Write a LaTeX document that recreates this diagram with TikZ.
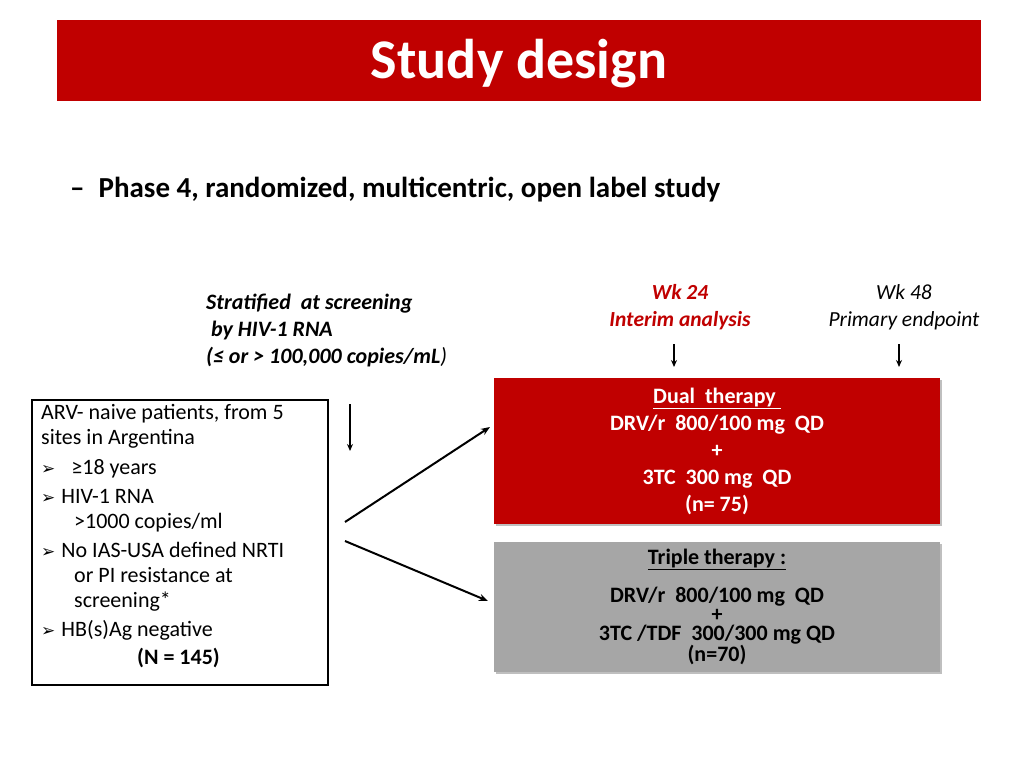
\documentclass[tikz,border=0pt]{standalone}
\usepackage{fontspec}
\setmainfont{Carlito}
\newfontfamily\symfont{DejaVu Sans}
\usetikzlibrary{positioning,arrows.meta,shadows}
\definecolor{darkred}{HTML}{C00000}
\definecolor{armgray}{HTML}{A6A6A6}
\tikzset{
  armbox/.style={minimum width=446pt, draw=none, drop shadow={shadow xshift=2pt, shadow yshift=-2pt, opacity=0.5}},
  lbl/.style={inner sep=0pt, font=\fontsize{21}{27}\selectfont},
  downarrow/.style={-{Stealth[length=7pt,width=6pt]}, line width=1.6pt},
  flowarrow/.style={-{Stealth[length=9pt,width=7pt]}, line width=2pt}
}
\newcommand{\bul}{{\symfont\fontsize{17}{18}\selectfont ➢}\hspace{6pt}}
\begin{document}
\begin{tikzpicture}[x=1pt,y=-1pt]
\useasboundingbox (0,0) rectangle (1024,768);
% title bar
\fill[darkred] (57,20) rectangle (981,101);
\node[text=white, font=\fontsize{56}{60}\selectfont\bfseries] (title) at (519,64) {Study design};
\node[lbl, anchor=west, font=\fontsize{29}{32}\selectfont\bfseries] (phase) at (70,190) {–\hspace{14pt}Phase 4, randomized, multicentric, open label study};
% stratification
\node[lbl, anchor=north west, align=left, font=\fontsize{22}{27}\selectfont\bfseries\itshape] (strat) at (206,294)
  {Stratified\ \ at screening\\\ by HIV-1 RNA\\(≤ or > 100,000 copies/mL\textmd{)}};
% time points
\node[lbl, align=center, text=darkred, font=\fontsize{21.5}{27}\selectfont\bfseries\itshape] (wk24) at (680,307) {Wk 24\\Interim analysis};
\node[lbl, align=center, font=\fontsize{21.5}{27}\selectfont\itshape] (wk48) at (904,307) {Wk 48\\Primary endpoint};
\coordinate (a24) at (674,344); \coordinate (b24) at (674,367);
\coordinate (a48) at (899,344); \coordinate (b48) at (899,367);
\coordinate (as) at (350,404); \coordinate (bs) at (350,451);
\draw[downarrow] (a24) -- (b24);
\draw[downarrow] (a48) -- (b48);
\draw[downarrow] (as) -- (bs);
% population box
\draw[line width=2pt] (32,400) rectangle (328,685);
\node[lbl, anchor=north west, align=left, font=\fontsize{22}{25}\selectfont] (pop) at (41,404)
  {ARV- naive patients, from 5\\sites in Argentina\\[5pt]
   \bul\ \ ≥18 years\\[4pt]
   \bul HIV-1 RNA\\\hspace{33pt}>1000 copies/ml\\[4pt]
   \bul No IAS-USA defined NRTI\\\hspace{33pt}or PI resistance at\\\hspace{33pt}screening*\\[4pt]
   \bul HB(s)Ag negative\\[3pt]
   \hspace{96pt}\textbf{(N = 145)}};
% arms
\node[armbox, fill=darkred, minimum height=146pt, text=white, align=center,
  font=\fontsize{22}{27}\selectfont\bfseries] (dual) at (717,451)
  {\underline{Dual\ \ therapy\ }\\DRV/r\ \ 800/100 mg\ \ QD\\+\\3TC\ \ 300 mg\ \ QD\\(n= 75)};
\node[armbox, fill=armgray, minimum height=130pt, align=center,
  font=\fontsize{22}{19}\selectfont\bfseries] (triple) at (717,607)
  {\underline{Triple therapy :}\\[16pt]DRV/r\ \ 800/100 mg\ \ QD\\+\\3TC /TDF\ \ 300/300 mg QD\\(n=70)};
\coordinate (s1) at (345,522); \coordinate (e1) at (490,427);
\coordinate (s2) at (345,541); \coordinate (e2) at (488,601);
\draw[flowarrow] (s1) -- (e1);
\draw[flowarrow] (s2) -- (e2);
\end{tikzpicture}
\end{document}
